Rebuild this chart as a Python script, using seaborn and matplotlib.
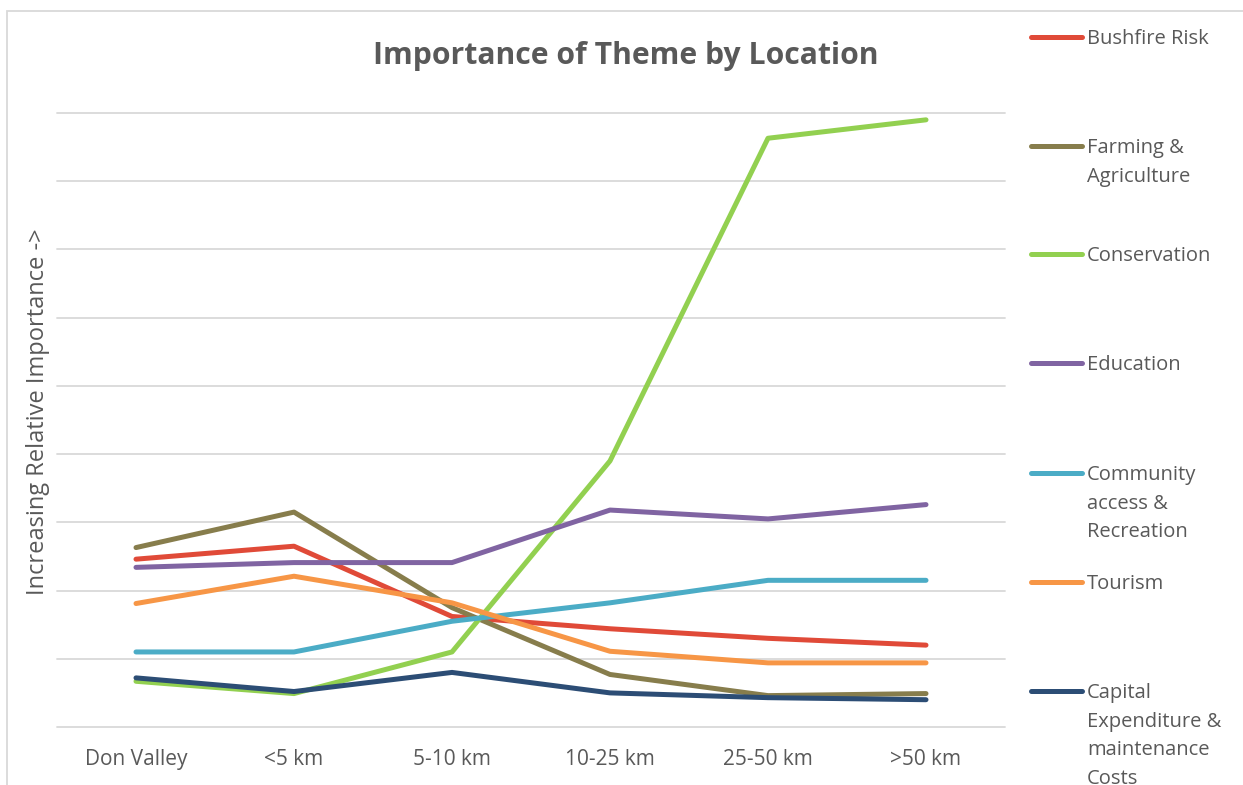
import matplotlib
matplotlib.use("Agg")
import matplotlib.pyplot as plt
from matplotlib.lines import Line2D
from matplotlib.patches import Rectangle
import seaborn as sns
import pandas as pd

# Distance bands from the valley
locations = ["Don Valley", "<5 km", "5-10 km", "10-25 km", "25-50 km", ">50 km"]

# Relative importance of each theme per location band
bushfire_risk = [2.46, 2.65, 1.62, 1.44, 1.30, 1.20]
farming_agriculture = [2.63, 3.15, 1.75, 0.77, 0.46, 0.49]
conservation = [0.67, 0.49, 1.10, 3.90, 8.63, 8.90]
education = [2.34, 2.41, 2.41, 3.18, 3.05, 3.26]
community_recreation = [1.10, 1.10, 1.55, 1.82, 2.15, 2.15]
tourism = [1.81, 2.21, 1.82, 1.11, 0.94, 0.94]
capital_costs = [0.72, 0.52, 0.80, 0.50, 0.43, 0.40]

themes = [
    "Bushfire Risk",
    "Farming &\nAgriculture",
    "Conservation",
    "Education",
    "Community\naccess &\nRecreation",
    "Tourism",
    "Capital\nExpenditure &\nmaintenance\nCosts",
]
series = [bushfire_risk, farming_agriculture, conservation, education,
          community_recreation, tourism, capital_costs]
colors = ["#E04A38", "#877D4C", "#92D050", "#8064A2", "#4BACC6", "#F79646", "#2C4D75"]

rows = []
for theme, vals in zip(themes, series):
    for loc, v in zip(locations, vals):
        rows.append({"Location": loc, "Theme": theme, "Importance": v})
df = pd.DataFrame(rows)

sns.set_theme(style="white")
plt.rcParams["font.family"] = ["Open Sans", "DejaVu Sans"]

W, H = 1243, 785
fig = plt.figure(figsize=(W / 100, H / 100), dpi=100)
ax = fig.add_axes([57 / W, 1 - 727 / H, (1005 - 57) / W, (727 - 113) / H])

sns.lineplot(data=df, x="Location", y="Importance", hue="Theme",
             hue_order=themes, palette=colors, sort=False, linewidth=3.6,
             solid_capstyle="round", legend=False, ax=ax)

ax.set_xlim(-0.5, len(locations) - 0.5)
ax.set_ylim(0, 9)
ax.set_yticks(range(0, 10))
ax.set_yticklabels([])
ax.tick_params(axis="y", length=0)
ax.tick_params(axis="x", length=0, labelsize=15, labelcolor="#595959", pad=16)
ax.grid(axis="y", color="#D9D9D9", linewidth=1.3)
ax.set_axisbelow(True)
for s in ax.spines.values():
    s.set_visible(False)
for gl in ax.get_ygridlines():
    gl.set_clip_on(False)
ax.set_xlabel("")
ax.set_ylabel("")

fig.text(626 / W, 1 - 56 / H, "Importance of Theme by Location", ha="center", va="center",
         fontsize=21.7, fontweight="bold", color="#595959")
fig.text(38 / W, 1 - 412 / H, "Increasing Relative Importance ->", ha="center", va="center",
         rotation=90, fontsize=17, color="#595959")

# Legend column on the right
legend_y = [37, 146, 254, 363, 473, 582, 691]
for theme, color, ly in zip(themes, colors, legend_y):
    fig.add_artist(Line2D([1031 / W, 1082 / W], [1 - ly / H, 1 - ly / H],
                          color=color, linewidth=3.6, solid_capstyle="round"))
    fig.text(1087 / W, 1 - (ly - 8) / H, theme, ha="left", va="top",
             fontsize=14.5, color="#595959", linespacing=1.57)

# Outer chart frame
fig.add_artist(Rectangle((7 / W, -0.1), 1.2, 1 - 11 / H + 0.1, transform=fig.transFigure,
                         fill=False, edgecolor="#D9D9D9", linewidth=1.3))

fig.savefig("out.png", dpi=100, facecolor="white")
